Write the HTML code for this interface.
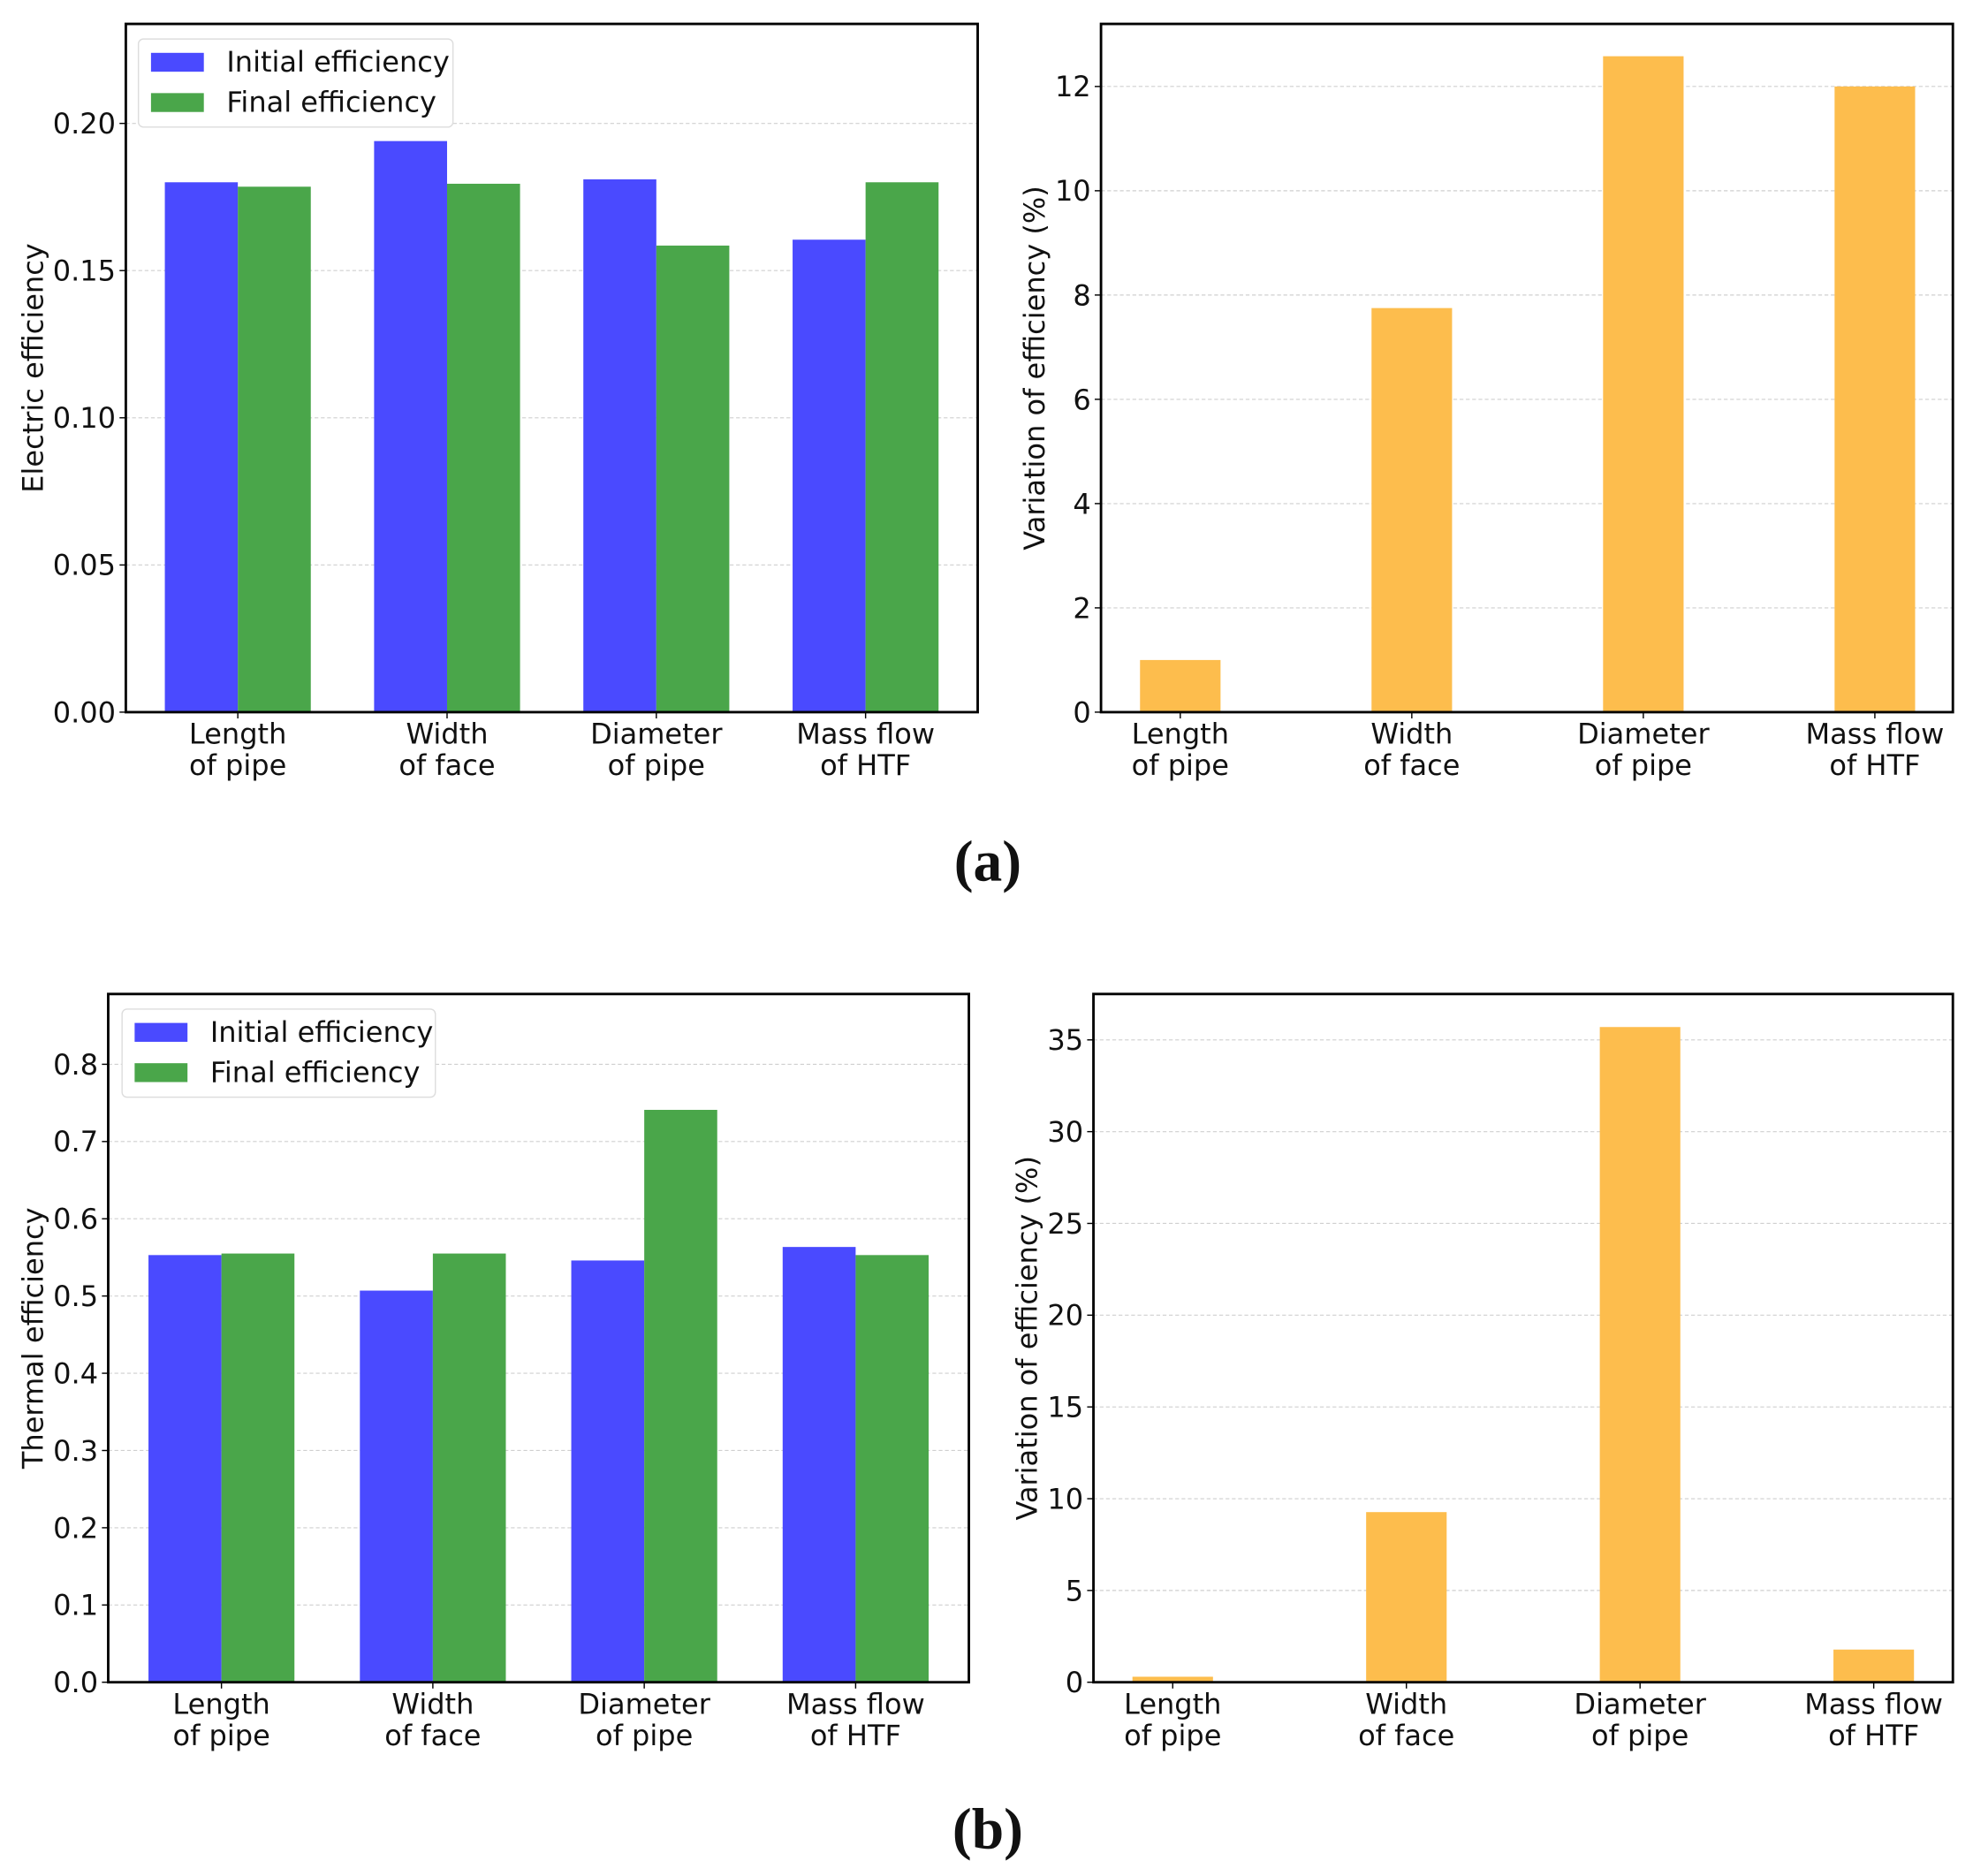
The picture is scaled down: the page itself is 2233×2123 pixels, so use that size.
<!DOCTYPE html>
<html><head><meta charset="utf-8"><style>
html,body{margin:0;padding:0;background:#fff;}
svg{display:block;}
text{font-family:"DejaVu Sans","Liberation Sans",sans-serif;fill:#111;}
</style></head><body>
<svg id="fig" width="2233" height="2123" viewBox="0 0 1568 1491" preserveAspectRatio="none" xmlns="http://www.w3.org/2000/svg">
<text x="785" y="700" text-anchor="middle" style="font-family:'Liberation Serif',serif;font-weight:bold;font-size:46px">(a)</text>
<text x="785" y="1469" text-anchor="middle" style="font-family:'Liberation Serif',serif;font-weight:bold;font-size:46px">(b)</text>
</svg>
<script>
const categories = [["Length","of pipe"],["Width","of face"],["Diameter","of pipe"],["Mass flow","of HTF"]];
const elecInitial = [0.180, 0.194, 0.181, 0.1605];
const elecFinal = [0.1785, 0.1795, 0.1585, 0.180];
const elecTicks = [0.00, 0.05, 0.10, 0.15, 0.20];
const elecVar = [1.0, 7.75, 12.58, 12.0];
const elecVarTicks = [0, 2, 4, 6, 8, 10, 12];
const thermInitial = [0.553, 0.507, 0.546, 0.5635];
const thermFinal = [0.555, 0.555, 0.741, 0.553];
const thermTicks = [0.0, 0.1, 0.2, 0.3, 0.4, 0.5, 0.6, 0.7, 0.8];
const thermVar = [0.3, 9.27, 35.7, 1.78];
const thermVarTicks = [0, 5, 10, 15, 20, 25, 30, 35];

const NS = "http://www.w3.org/2000/svg";
const svg = document.getElementById('fig');
function mk(tag, attrs, parent){const e=document.createElementNS(NS,tag);for(const k in attrs)e.setAttribute(k,attrs[k]);(parent||svg).appendChild(e);return e;}
const FS = 22.5;

function panel(o){
  const g = mk('g',{});
  
  
  const y = v => o.y1 - v / o.ymax * (o.y1 - o.y0);
  const cx = i => o.first + o.step * i;
  o.ticks.forEach(t=>{
    const yy = y(t);
    const gl = mk('line',{x1:o.x0,x2:o.x1,y1:yy,y2:yy,stroke:'#cfcfcf','stroke-width':0.8,'stroke-dasharray':'3,2'},g);
    
    
    const tk = mk('line',{x1:o.x0-5,x2:o.x0,y1:yy,y2:yy,stroke:'#000','stroke-width':1},g);
    
    
    const tl = mk('text',{x:o.x0-8,y:yy+8,'text-anchor':'end','font-size':FS},g);
    tl.textContent = o.fmt(t);
    
    
  });
  o.series.forEach(s=>{
    s.vals.forEach((v,i)=>{
      const r = mk('rect',{x:cx(i)+s.off, y:y(v), width:s.w, height:y(0)-y(v), fill:s.color},g);
      
      
    });
  });
  const box = mk('rect',{x:o.x0,y:o.y0,width:o.x1-o.x0,height:o.y1-o.y0,fill:'none',stroke:'#000','stroke-width':2},g);
  
  
  categories.forEach((c,i)=>{
    const xx = cx(i);
    const tk = mk('line',{x1:xx,x2:xx,y1:o.y1,y2:o.y1+5,stroke:'#000','stroke-width':1},g);
    
    
    c.forEach((line,li)=>{
      const t = mk('text',{x:xx,y:o.y1+25+li*25,'text-anchor':'middle','font-size':FS},g);
      t.textContent = line;
      
      
    });
  });
  const ty = (o.y0+o.y1)/2;
  const yt = mk('text',{x:0,y:0,'text-anchor':'middle','font-size':FS,transform:`translate(${o.titleX},${ty}) rotate(-90)`},g);
  yt.textContent = o.title;
  
  
  if(o.legend){
    const L = o.legend;
    const lb = mk('rect',{x:L.x,y:L.y,width:L.w,height:70,rx:4,fill:'#fff',stroke:'#dddddd','stroke-width':1},g);
    
    
    [['Initial efficiency','#4a4aff'],['Final efficiency','#4aa64a']].forEach((e,k)=>{
      const p = mk('rect',{x:L.x+10,y:L.y+11+k*32,width:42,height:15,fill:e[1]},g);
      
      
      const t = mk('text',{x:L.x+70,y:L.y+26+k*32,'font-size':FS},g);
      t.textContent = e[0];
      
      
    });
  }
}

panel({name:'electric-efficiency-chart',x0:100,x1:777,y0:19,y1:566,ymax:0.2338,ticks:elecTicks,fmt:v=>v.toFixed(2),
  first:189, step:166.3,
  series:[{name:'initial',vals:elecInitial,off:-58,w:58,color:'#4a4aff'},{name:'final',vals:elecFinal,off:0,w:58,color:'#4aa64a'}],
  title:'Electric efficiency',titleX:34,legend:{x:110,y:31,w:250}});
panel({name:'electric-variation-chart',x0:875,x1:1552,y0:19,y1:566,ymax:13.2,ticks:elecVarTicks,fmt:v=>String(v),
  first:938, step:184,
  series:[{name:'variation',vals:elecVar,off:-32,w:64,color:'#fdbd4d'}],title:'Variation of efficiency (%)',titleX:830});
panel({name:'thermal-efficiency-chart',x0:86,x1:770,y0:790,y1:1337,ymax:0.891,ticks:thermTicks,fmt:v=>v.toFixed(1),
  first:176, step:168,
  series:[{name:'initial',vals:thermInitial,off:-58,w:58,color:'#4a4aff'},{name:'final',vals:thermFinal,off:0,w:58,color:'#4aa64a'}],
  title:'Thermal efficiency',titleX:34,legend:{x:97,y:802,w:249}});
panel({name:'thermal-variation-chart',x0:869,x1:1552,y0:790,y1:1337,ymax:37.5,ticks:thermVarTicks,fmt:v=>String(v),
  first:932, step:185.7,
  series:[{name:'variation',vals:thermVar,off:-32,w:64,color:'#fdbd4d'}],title:'Variation of efficiency (%)',titleX:824});
</script>
</body></html>
